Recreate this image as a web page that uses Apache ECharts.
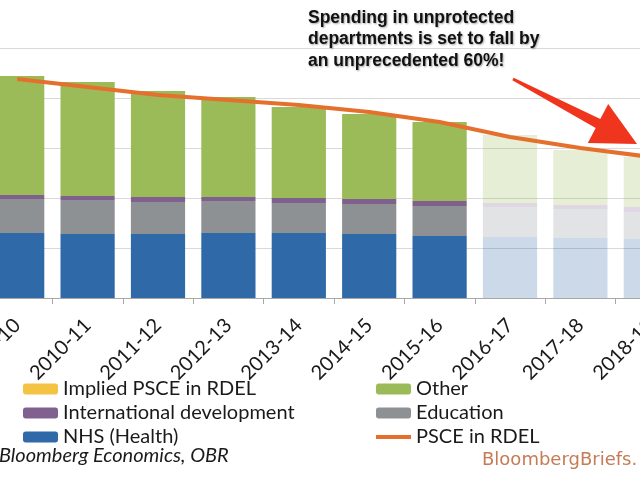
<!DOCTYPE html>
<html><head><meta charset="utf-8">
<script src="https://cdn.jsdelivr.net/npm/echarts@6/dist/echarts.min.js"></script>
<style>html,body{margin:0;padding:0;background:#fff}#c{width:640px;height:480px}</style>
</head><body><div id="c"></div>
<script>
const categories = ['2009-10','2010-11','2011-12','2012-13','2013-14','2014-15','2015-16','2016-17','2017-18','2018-19'];
const firstForecast = '2016-17';
const nhs = [65,64,64,65,65,64,62,61,60,59];
const education = [34,34,32,32,30,30,30,30,29,27];
const intlDev = [4,4,5,4,5,5,5,4,4,5];
const other = [119,114,106,100,91,85,79,68,55,50];
const impliedPsce = [0,0,0,0,0,0,0,0,0,0];
const psceInRdel = [219,211,203,198,193,186,176,161,150,141];
const yMin = 0, yMax = 250, yInterval = 50;

const fcIdx = categories.indexOf(firstForecast);
const fade = arr => arr.map((v,i) => i >= fcIdx ? {value:v, itemStyle:{opacity:0.25}} : v);

const colors = {nhs:'#2f69a7', edu:'#8d9194', intl:'#80608f', other:'#9bbb59', implied:'#f5c343', line:'#e5702d'};
const bar = (name, data, color) => ({
  name, type:'bar', stack:'s', data:fade(data), barCategoryGap:'23%',
  itemStyle:{color}, emphasis:{disabled:true}
});

const chart = echarts.init(document.getElementById('c'), null, {renderer:'canvas'});
const legendText = {fontFamily:'Lato', fontSize:20, color:'#1a1a1a', lineHeight:20};
chart.setOption({
  animation:false,
  grid:{left:-18, right:-46, top:48, bottom:182, outerBoundsMode:'none'},
  xAxis:{type:'category', data:categories,
    axisLine:{lineStyle:{color:'#a8a8a8'}},
    axisTick:{show:true, length:6, lineStyle:{color:'#a8a8a8'}},
    axisLabel:{rotate:45, margin:24, fontFamily:'Lato', fontSize:20, color:'#1a1a1a', interval:0}},
  yAxis:{type:'value', min:yMin, max:yMax, interval:yInterval,
    axisLabel:{show:false}, axisLine:{show:false}, axisTick:{show:false},
    splitLine:{lineStyle:{color:'#d9d9d9', width:1}}},
  legend:[
    {left:18, top:374, orient:'vertical', itemWidth:35, itemHeight:11, itemGap:4, selectedMode:false,
     data:['Implied PSCE in RDEL','International development','NHS (Health)'], textStyle:legendText},
    {left:369, top:374, orient:'vertical', itemWidth:35, itemHeight:11, itemGap:4, selectedMode:false,
     data:['Other','Education',{name:'PSCE in RDEL', itemStyle:{opacity:0}, lineStyle:{width:4}}], textStyle:legendText}
  ],
  series:[
    bar('NHS (Health)', nhs, colors.nhs),
    bar('Education', education, colors.edu),
    bar('International development', intlDev, colors.intl),
    bar('Other', other, colors.other),
    bar('Implied PSCE in RDEL', impliedPsce, colors.implied),
    {name:'PSCE in RDEL', type:'line', data:psceInRdel, symbol:'none', z:5,
     lineStyle:{color:colors.line, width:4}, itemStyle:{color:colors.line}, emphasis:{disabled:true}}
  ],
  graphic:[
    {type:'polygon', z:100, shape:{points:[[513.7,77.7],[600.3,119.1],[608.2,104],[637,144],[587.8,143],[595.7,127.9],[512.3,80.3]]},
     style:{fill:'#f0351e'}},
    {type:'text', z:100, left:308, top:7, style:{
      text:'Spending in unprotected\ndepartments is set to fall by\nan unprecedented 60%!',
      font:'bold 17.5px "Liberation Sans", Arial, sans-serif', lineHeight:21.5, fill:'#111',
      textShadowColor:'rgba(0,0,0,0.35)', textShadowBlur:2, textShadowOffsetX:1, textShadowOffsetY:1}},
    {type:'text', z:100, left:-1, top:446, style:{text:'Bloomberg Economics, OBR',
      font:'italic 20px Lato, sans-serif', fill:'#1a1a1a'}},
    {type:'text', z:100, left:482, top:451, style:{text:'BloombergBriefs.',
      font:'18px "DejaVu Sans", sans-serif', fill:'#c57b55'}}
  ]
});
</script></body></html>
